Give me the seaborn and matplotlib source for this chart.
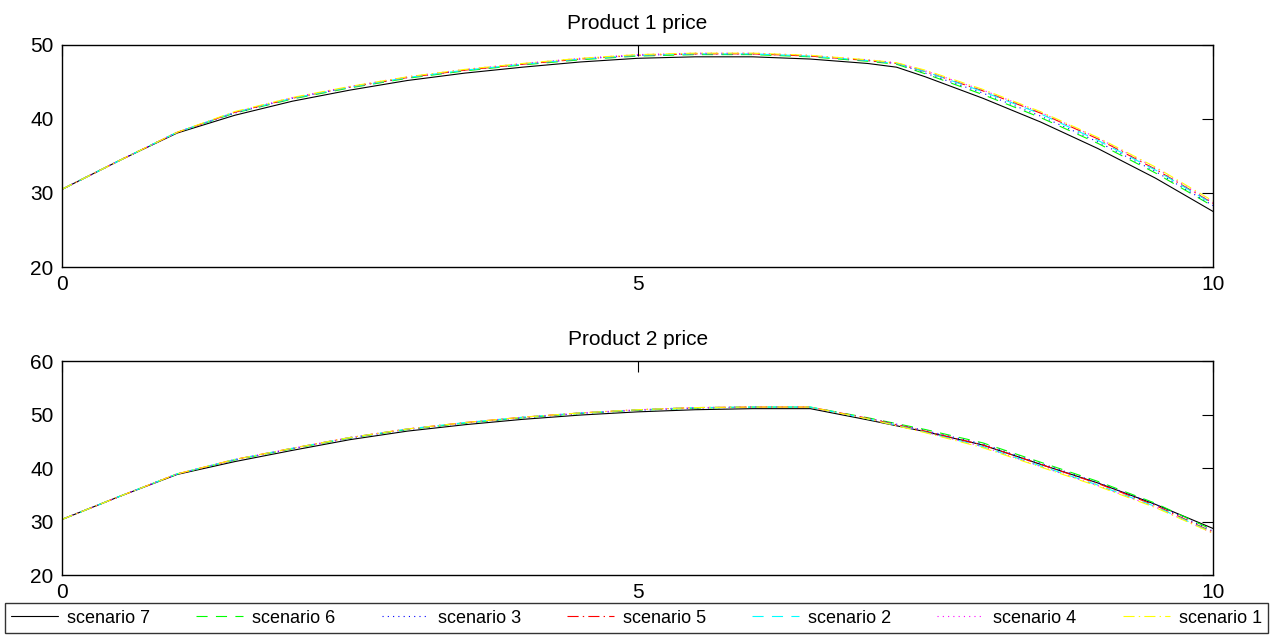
import matplotlib
matplotlib.use("Agg")
import matplotlib.pyplot as plt
import seaborn as sns

# Time grid (shared by all scenarios)
t = [0, 0.5, 1, 1.5, 2, 2.5, 3, 3.5, 4, 4.5, 5, 5.5, 6, 6.5, 7, 7.25, 7.5, 8, 8.5, 9, 9.5, 10]

# Product 1 price per scenario
p1_s7 = [30.5, 34.4, 38.1, 40.5, 42.4, 43.9, 45.2, 46.2, 47.0, 47.7, 48.2, 48.4, 48.4, 48.1, 47.5, 47.0, 45.7, 42.8, 39.6, 36.0, 32.0, 27.5]
p1_s6 = [30.5, 34.4, 38.2, 40.8, 42.7, 44.2, 45.5, 46.5, 47.3, 48.0, 48.5, 48.7, 48.7, 48.4, 47.8, 47.4, 46.1, 43.3, 40.2, 36.7, 32.7, 28.2]
p1_s3 = [30.5, 34.4, 38.2, 40.8, 42.8, 44.3, 45.6, 46.6, 47.4, 48.1, 48.6, 48.8, 48.8, 48.5, 47.9, 47.5, 46.2, 43.5, 40.4, 36.9, 32.9, 28.3]
p1_s5 = [30.5, 34.4, 38.2, 40.9, 42.8, 44.3, 45.6, 46.6, 47.4, 48.1, 48.6, 48.8, 48.8, 48.5, 47.9, 47.5, 46.4, 43.8, 40.8, 37.3, 33.2, 28.6]
p1_s2 = [30.5, 34.4, 38.2, 40.9, 42.8, 44.3, 45.6, 46.6, 47.4, 48.1, 48.6, 48.8, 48.8, 48.5, 47.9, 47.5, 46.4, 43.7, 40.7, 37.1, 33.1, 28.5]
p1_s4 = [30.5, 34.4, 38.2, 40.9, 42.9, 44.4, 45.7, 46.7, 47.5, 48.2, 48.7, 48.9, 48.9, 48.6, 48.0, 47.6, 46.5, 43.9, 40.9, 37.4, 33.4, 28.7]
p1_s1 = [30.5, 34.4, 38.2, 41.0, 42.9, 44.4, 45.7, 46.7, 47.5, 48.2, 48.7, 48.9, 48.9, 48.6, 48.0, 47.6, 46.6, 44.0, 41.0, 37.5, 33.5, 28.9]

# Product 2 price per scenario
p2_s7 = [30.4, 34.7, 38.8, 41.2, 43.3, 45.3, 46.9, 48.1, 49.1, 49.9, 50.5, 50.9, 51.1, 51.1, 49.0, 47.9, 46.8, 44.3, 40.7, 37.2, 33.2, 28.7]
p2_s6 = [30.4, 34.7, 38.9, 41.5, 43.6, 45.6, 47.2, 48.4, 49.4, 50.2, 50.8, 51.2, 51.4, 51.4, 49.4, 48.3, 47.2, 44.7, 41.1, 37.5, 33.4, 28.4]
p2_s3 = [30.4, 34.7, 38.9, 41.5, 43.6, 45.6, 47.2, 48.4, 49.4, 50.2, 50.8, 51.2, 51.4, 51.4, 49.3, 48.2, 47.0, 44.5, 40.9, 37.3, 33.2, 28.2]
p2_s5 = [30.4, 34.7, 38.9, 41.6, 43.7, 45.7, 47.3, 48.5, 49.5, 50.3, 50.9, 51.3, 51.4, 51.4, 49.3, 48.1, 46.9, 44.3, 40.7, 37.1, 33.0, 28.0]
p2_s2 = [30.4, 34.7, 38.9, 41.6, 43.7, 45.7, 47.3, 48.5, 49.5, 50.3, 50.9, 51.3, 51.4, 51.4, 49.2, 48.0, 46.7, 44.0, 40.4, 36.8, 32.8, 27.9]
p2_s4 = [30.4, 34.7, 38.9, 41.6, 43.7, 45.7, 47.3, 48.5, 49.5, 50.3, 50.9, 51.3, 51.4, 51.4, 49.2, 48.0, 46.7, 44.0, 40.3, 36.7, 32.7, 27.8]
p2_s1 = [30.4, 34.7, 38.9, 41.6, 43.7, 45.7, 47.3, 48.5, 49.5, 50.3, 50.9, 51.3, 51.4, 51.4, 49.2, 47.9, 46.6, 43.8, 40.2, 36.6, 32.6, 27.8]

scenarios = ["scenario 7", "scenario 6", "scenario 3", "scenario 5", "scenario 2", "scenario 4", "scenario 1"]
product1 = [p1_s7, p1_s6, p1_s3, p1_s5, p1_s2, p1_s4, p1_s1]
product2 = [p2_s7, p2_s6, p2_s3, p2_s5, p2_s2, p2_s4, p2_s1]

# Style (matlab-like)
colors = ["black", (0, 1, 0), (0, 0, 1), (1, 0, 0), (0, 1, 1), (1, 0, 1), (1, 1, 0)]
styles = ["-", (0, (8, 6)), (0, (0.8, 3)), (0, (8, 3, 1, 3)), (0, (8, 6)), (0, (0.8, 3)), (0, (8, 3, 1, 3))]

sns.set_theme(style="white")
plt.rcParams["font.family"] = ["Liberation Sans", "DejaVu Sans"]
plt.rcParams["lines.scale_dashes"] = False
plt.rcParams["text.color"] = "black"

fig = plt.figure(figsize=(12.74, 6.38), dpi=100)
ax1 = fig.add_axes([0.0487, 0.5815, 0.9035, 0.348])
ax2 = fig.add_axes([0.0487, 0.0987, 0.9035, 0.3354])


def draw(ax, series, title, ylim, yticks):
    handles = []
    for name, vals, c, ls in zip(scenarios, series, colors, styles):
        sns.lineplot(x=t, y=vals, ax=ax, color=c, linestyle=ls, linewidth=0.8)
        handles.append(ax.lines[-1])
    ax.set_xlim(0, 10)
    ax.set_ylim(*ylim)
    ax.set_xticks([0, 5, 10])
    ax.set_yticks(yticks)
    ax.set_title(title, fontsize=15, pad=11.5, color="black")
    ax.tick_params(direction="in", top=True, right=True, length=8, width=0.8,
                   labelsize=15, colors="black")
    ax.tick_params(axis="x", pad=6)
    ax.tick_params(axis="y", pad=6)
    for s in ax.spines.values():
        s.set_color("black")
        s.set_linewidth(1.0)
    ax.grid(False)
    return handles


handles = draw(ax1, product1, "Product 1 price", (20, 50), [20, 30, 40, 50])
draw(ax2, product2, "Product 2 price", (20, 60), [20, 30, 40, 50, 60])

# Legend below
leg = fig.legend(handles, scenarios, loc="lower left",
                 bbox_to_anchor=(5 / 1274, 5 / 638, 1263 / 1274, 0.05),
                 mode="expand", ncol=7, fontsize=13, frameon=True, fancybox=False,
                 handlelength=2.6, handletextpad=0.5, borderaxespad=0, borderpad=0.35)
leg.get_frame().set_edgecolor("black")
leg.get_frame().set_linewidth(1.0)
for txt in leg.get_texts():
    txt.set_color("black")

fig.savefig("out.png", dpi=100)
